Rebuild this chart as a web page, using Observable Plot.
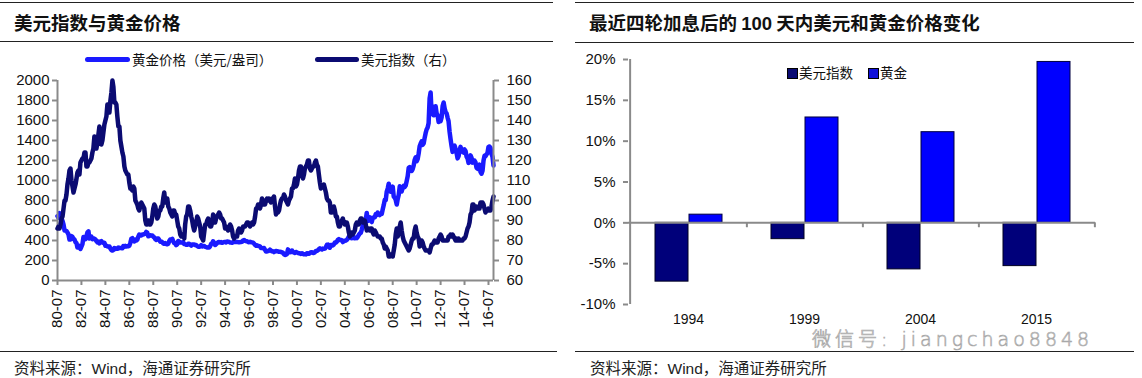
<!DOCTYPE html>
<html><head><meta charset="utf-8">
<script src="https://cdn.jsdelivr.net/npm/d3@7"></script>
<script src="https://cdn.jsdelivr.net/npm/@observablehq/plot@0.6"></script>
<style>
body{margin:0;width:1142px;height:378px;position:relative;background:#fff;overflow:hidden;font-family:"Liberation Sans","Noto Sans CJK SC",sans-serif;color:#111}
.abs{position:absolute}
.rule{position:absolute;height:0;border-top:1.5px solid #222}
.title{position:absolute;font-family:"Noto Sans CJK SC";font-weight:700;font-size:18.5px;line-height:1;color:#111;white-space:nowrap}
.src{position:absolute;font-family:"Liberation Sans","Noto Sans CJK SC";font-size:15.5px;line-height:1;color:#222;white-space:nowrap}
.leg{position:absolute;font-family:"Noto Sans CJK SC";font-size:13.5px;line-height:1;color:#111;white-space:nowrap}
.sw{position:absolute;height:5px;border-radius:3px}
.sq{position:absolute;width:9px;height:9px;border:1px solid #000}
</style></head>
<body>
<script>
// ---------- data ----------
const seriesStart = [1980, 7]; // first month of the monthly series (1980-07)
const goldPrice = [
644,627,674,662,623,596,
558,500,499,495,480,461,409,410,444,437,413,410,
384,374,330,350,334,315,339,364,435,422,414,444,
481,491,419,432,438,413,422,416,412,394,382,388,
371,388,394,381,377,378,347,348,341,340,341,320,
303,299,304,325,316,317,317,330,323,326,325,322,
345,339,346,340,342,343,348,376,418,423,398,391,
408,401,408,439,460,450,450,461,460,465,467,486,
477,442,444,452,451,451,437,431,413,406,420,419,
404,388,390,384,371,367,375,365,362,367,394,409,
410,417,393,374,369,353,362,395,389,381,381,378,
383,364,363,358,357,367,368,357,349,359,360,361,
354,354,345,338,337,341,353,341,346,345,336,334,
329,330,330,342,367,371,392,379,355,364,374,383,
386,381,384,377,381,385,385,380,391,389,384,379,
379,377,382,391,385,387,386,383,383,383,386,387,
400,405,396,393,392,385,383,387,383,381,378,369,
355,347,352,344,344,341,324,324,323,325,306,289,
289,297,296,308,299,292,293,284,289,296,294,291,
287,287,286,282,277,262,256,257,265,311,293,283,
284,300,286,280,275,285,282,275,273,270,266,272,
266,262,263,261,272,270,268,273,283,283,276,276,
282,296,294,302,314,321,314,310,319,317,319,333,
357,359,340,328,355,356,351,360,379,379,389,407,
414,405,406,404,384,392,398,400,406,420,439,442,
424,423,434,429,422,430,424,437,456,470,476,510,
549,555,557,610,676,596,633,632,598,585,627,629,
631,665,655,679,667,655,665,665,712,754,806,803,
889,922,968,909,888,889,939,839,829,806,760,816,
858,943,924,890,928,946,934,949,996,1043,1127,1134,
1118,1095,1113,1148,1205,1232,1193,1215,1271,1343,1370,1391,
1356,1372,1424,1473,1510,1529,1572,1820,1880,1665,1739,1652,
1656,1742,1673,1650,1585,1596,1594,1630,1744,1780,1721,1684,
1671,1627,1593,1487,1414,1343,1286,1347,1349,1316,1275,1221,
1244,1300,1336,1299,1287,1279,1311,1296,1239,1222,1176,1201,
1251,1227,1179,1198,1199,1181,1128,1117,1125,1159,1086,1068,
1097,1200,1246,1242,1261,1276,1337,1340,1326,1267,1236,1150
];
const dollarIndex = [
86,87,86,88,91,92,
96,100,100,103,108,111,115,116,110,107,104,106,
108,111,114,115,113,119,120,121,121,124,124,117,
117,119,119,120,121,124,126,132,128,126,129,133,
137,131,128,130,134,138,140,142,148,147,144,150,
154,160,157,149,149,148,142,137,137,130,127,124,
122,117,115,114,113,113,109,106,106,105,107,106,
100,99,98,96,95,97,99,98,97,96,90,88,
88,90,88,88,89,92,96,98,97,94,91,92,
95,95,97,97,101,104,99,101,101,97,96,94,
93,92,95,95,93,93,90,87,86,83,82,83,
83,81,88,92,93,97,97,95,92,90,87,85,
87,89,92,91,89,87,82,81,80,84,88,88,
90,91,89,87,87,89,93,92,89,91,92,93,
94,93,91,91,90,89,86,87,86,85,86,88,
87,85,82,81,82,82,82,85,86,85,84,85,
87,87,87,88,89,89,88,87,88,89,88,89,
92,96,96,98,97,96,98,101,99,98,98,100,
101,100,101,100,99,101,101,102,97,93,95,94,
95,98,100,101,101,103,102,100,99,98,100,101,
102,106,106,108,111,107,108,111,115,117,117,113,
111,113,116,117,118,120,120,116,115,116,117,117,
119,120,118,117,113,109,106,107,107,108,106,104,
101,100,100,99,94,94,95,97,95,92,92,89,
87,87,89,90,91,89,88,89,89,87,84,82,
83,84,83,84,85,88,89,88,88,90,91,91,
89,90,90,88,85,86,86,85,86,86,84,83,
85,84,83,82,82,82,81,81,79,78,76,77,
76,75,72,72,73,73,72,75,78,83,86,82,
84,87,89,85,82,80,79,78,77,76,75,76,
78,80,81,81,85,87,84,82,81,77,78,80,
79,77,76,75,75,75,75,74,76,78,78,79,
80,79,79,79,81,82,83,82,80,80,80,80,
80,80,82,82,83,82,83,82,81,80,81,80,
81,80,80,80,80,81,81,82,84,86,87,89,
93,94,98,98,95,96,97,96,96,96,99,99,
99,98,96,94,95,95,96,95,95,97,100,102
];
const goldTicks = [0,200,400,600,800,1000,1200,1400,1600,1800,2000];
const dollarTicks = [60,70,80,90,100,110,120,130,140,150,160];
const tickYears = [1980,1982,1984,1986,1988,1990,1992,1994,1996,1998,2000,2002,2004,2006,2008,2010,2012,2014,2016];

const hikeYears = ["1994","1999","2004","2015"];
const dollarChange = [-7.2,-2.0,-5.7,-5.3];
const goldChange = [1.0,12.9,11.1,19.7];
const pctTicks = [-10,-5,0,5,10,15,20];

const goldColor = "#1a1aff", dollarColor = "#0b0b72", axisGray = "#8a8a8a";
</script>

<!-- left panel chrome -->
<div class="rule" style="left:0;top:2px;width:553px"></div>
<div class="title" style="left:14px;top:13px">美元指数与黄金价格</div>
<div class="rule" style="left:0;top:41px;width:553px"></div>
<div class="sw" style="left:85px;top:57px;width:45px;background:#1a1aff"></div>
<div class="leg" style="left:132px;top:53px">黄金价格（美元/盎司）</div>
<div class="sw" style="left:315px;top:57px;width:44px;background:#0b0b72"></div>
<div class="leg" style="left:361px;top:53px">美元指数（右）</div>
<div id="left1" class="abs" style="left:0;top:70px"></div>
<div id="left2" class="abs" style="left:0;top:70px"></div>
<div class="rule" style="left:0;top:351px;width:557px;border-top-width:1px"></div>
<div class="src" style="left:14px;top:361px">资料来源：Wind，海通证券研究所</div>

<!-- right panel chrome -->
<div class="rule" style="left:575px;top:2px;width:559px"></div>
<div class="title" style="left:589px;top:13px">最近四轮加息后的 <span style="font-family:'Liberation Sans'">100</span> 天内美元和黄金价格变化</div>
<div class="rule" style="left:575px;top:42px;width:559px"></div>
<div id="right" class="abs" style="left:575px;top:49px"></div>
<div class="sq" style="left:787px;top:68px;background:#0b0b72"></div>
<div class="leg" style="left:799px;top:66px">美元指数</div>
<div class="sq" style="left:868px;top:68px;background:#1010d8"></div>
<div class="leg" style="left:880px;top:66px">黄金</div>
<div class="rule" style="left:575px;top:351px;width:559px;border-top-width:1px"></div>
<div class="src" style="left:590px;top:361px">资料来源：Wind，海通证券研究所</div>
<div class="abs" style="left:812px;top:330px;font-family:'DejaVu Sans','Noto Sans CJK SC';font-weight:300;font-size:19px;line-height:1;color:rgba(255,255,255,0.55);-webkit-text-stroke:0.7px #a8a8a8;white-space:nowrap;letter-spacing:4px">微信号: jiangchao8848</div>

<script>
const monthDate = i => new Date(Date.UTC(seriesStart[0], seriesStart[1] - 1 + i, 1));
const goldRows = goldPrice.map((v, i) => ({date: monthDate(i), value: v}));
const dollarRows = dollarIndex.map((v, i) => ({date: monthDate(i), value: v}));
const xDomain = [monthDate(0), monthDate(goldPrice.length - 1)];
const xTicks = tickYears.map(y => new Date(Date.UTC(y, 6, 1)));

const W = 560, H = 270, mT = 10, mB = 60, mL = 57, mR = 67;
const font = {fontSize: "15px", fontFamily: "Liberation Sans, Arial, sans-serif", background: "transparent", overflow: "visible"};

const p1 = Plot.plot({
  width: W, height: H, marginTop: mT, marginBottom: mB, marginLeft: mL, marginRight: mR,
  style: font,
  x: {type: "utc", domain: xDomain},
  y: {domain: [0, 2000]},
  marks: [
    Plot.axisY({ticks: goldTicks, tickFormat: d => String(d), tickSize: 5, tickPadding: 3, stroke: axisGray, strokeWidth: 2, fill: "#111", label: null}),
    Plot.axisX({ticks: xTicks, tickFormat: d3.utcFormat("%y-%m"), tickRotate: -90, tickSize: 5, tickPadding: 4, stroke: axisGray, strokeWidth: 2, fill: "#111", label: null}),
    Plot.lineY(goldRows, {x: "date", y: "value", stroke: goldColor, strokeWidth: 4.5, strokeLinejoin: "round"}),
    Plot.ruleY([0], {stroke: axisGray, strokeWidth: 2}),
    Plot.ruleX([xDomain[0]], {stroke: axisGray, strokeWidth: 2})
  ]
});
document.getElementById("left1").appendChild(p1);

const p2 = Plot.plot({
  width: W, height: H, marginTop: mT, marginBottom: mB, marginLeft: mL, marginRight: mR,
  style: font,
  x: {type: "utc", domain: xDomain, axis: null},
  y: {domain: [60, 160], axis: null},
  marks: [
    Plot.axisY({anchor: "right", ticks: dollarTicks, tickFormat: d => String(d), tickSize: 5, tickPadding: 8, stroke: axisGray, strokeWidth: 2, fill: "#111", label: null}),
    Plot.lineY(dollarRows, {x: "date", y: "value", stroke: dollarColor, strokeWidth: 4.5, strokeLinejoin: "round"}),
    Plot.ruleX([xDomain[1]], {stroke: axisGray, strokeWidth: 2})
  ]
});
document.getElementById("left2").appendChild(p2);

// ---------- bar chart ----------
const rows = hikeYears.map((year, i) => ({year, dollar: dollarChange[i], gold: goldChange[i]}));
const RW = 567, RH = 290, rT = 10, rB = 35, rL = 53, rR = 47;
const bw = (RW - rL - rR) / hikeYears.length;
const p3 = Plot.plot({
  width: RW, height: RH, marginTop: rT, marginBottom: rB, marginLeft: rL, marginRight: rR,
  style: font,
  x: {type: "band", domain: hikeYears, padding: 0},
  y: {domain: [-10, 20]},
  marks: [
    Plot.axisY({ticks: pctTicks, tickFormat: d => d + "%", tickSize: 5, tickPadding: 8, stroke: axisGray, strokeWidth: 2, fill: "#111", label: null}),
    Plot.axisX({tickSize: 0, tickPadding: 10, fill: "#111", label: null, fontSize: 14}),
    Plot.barY(rows, {x: "year", y: "dollar", fill: "#00007a", stroke: "#000020", strokeWidth: 1, insetLeft: 25, insetRight: 58}),
    Plot.barY(rows, {x: "year", y: "gold", fill: "#0000ff", stroke: "#000040", strokeWidth: 1, insetLeft: 59, insetRight: 24}),
    Plot.ruleY([0], {stroke: axisGray, strokeWidth: 2}),
    Plot.ruleX(rows, {x: "year", dx: bw / 2, y1: 0, y2: -0.6, stroke: axisGray, strokeWidth: 2}),
    Plot.ruleX([hikeYears[0]], {x: d => d, dx: -bw / 2, y1: -10, y2: 20, stroke: axisGray, strokeWidth: 2})
  ]
});
document.getElementById("right").appendChild(p3);
</script>
</body></html>
